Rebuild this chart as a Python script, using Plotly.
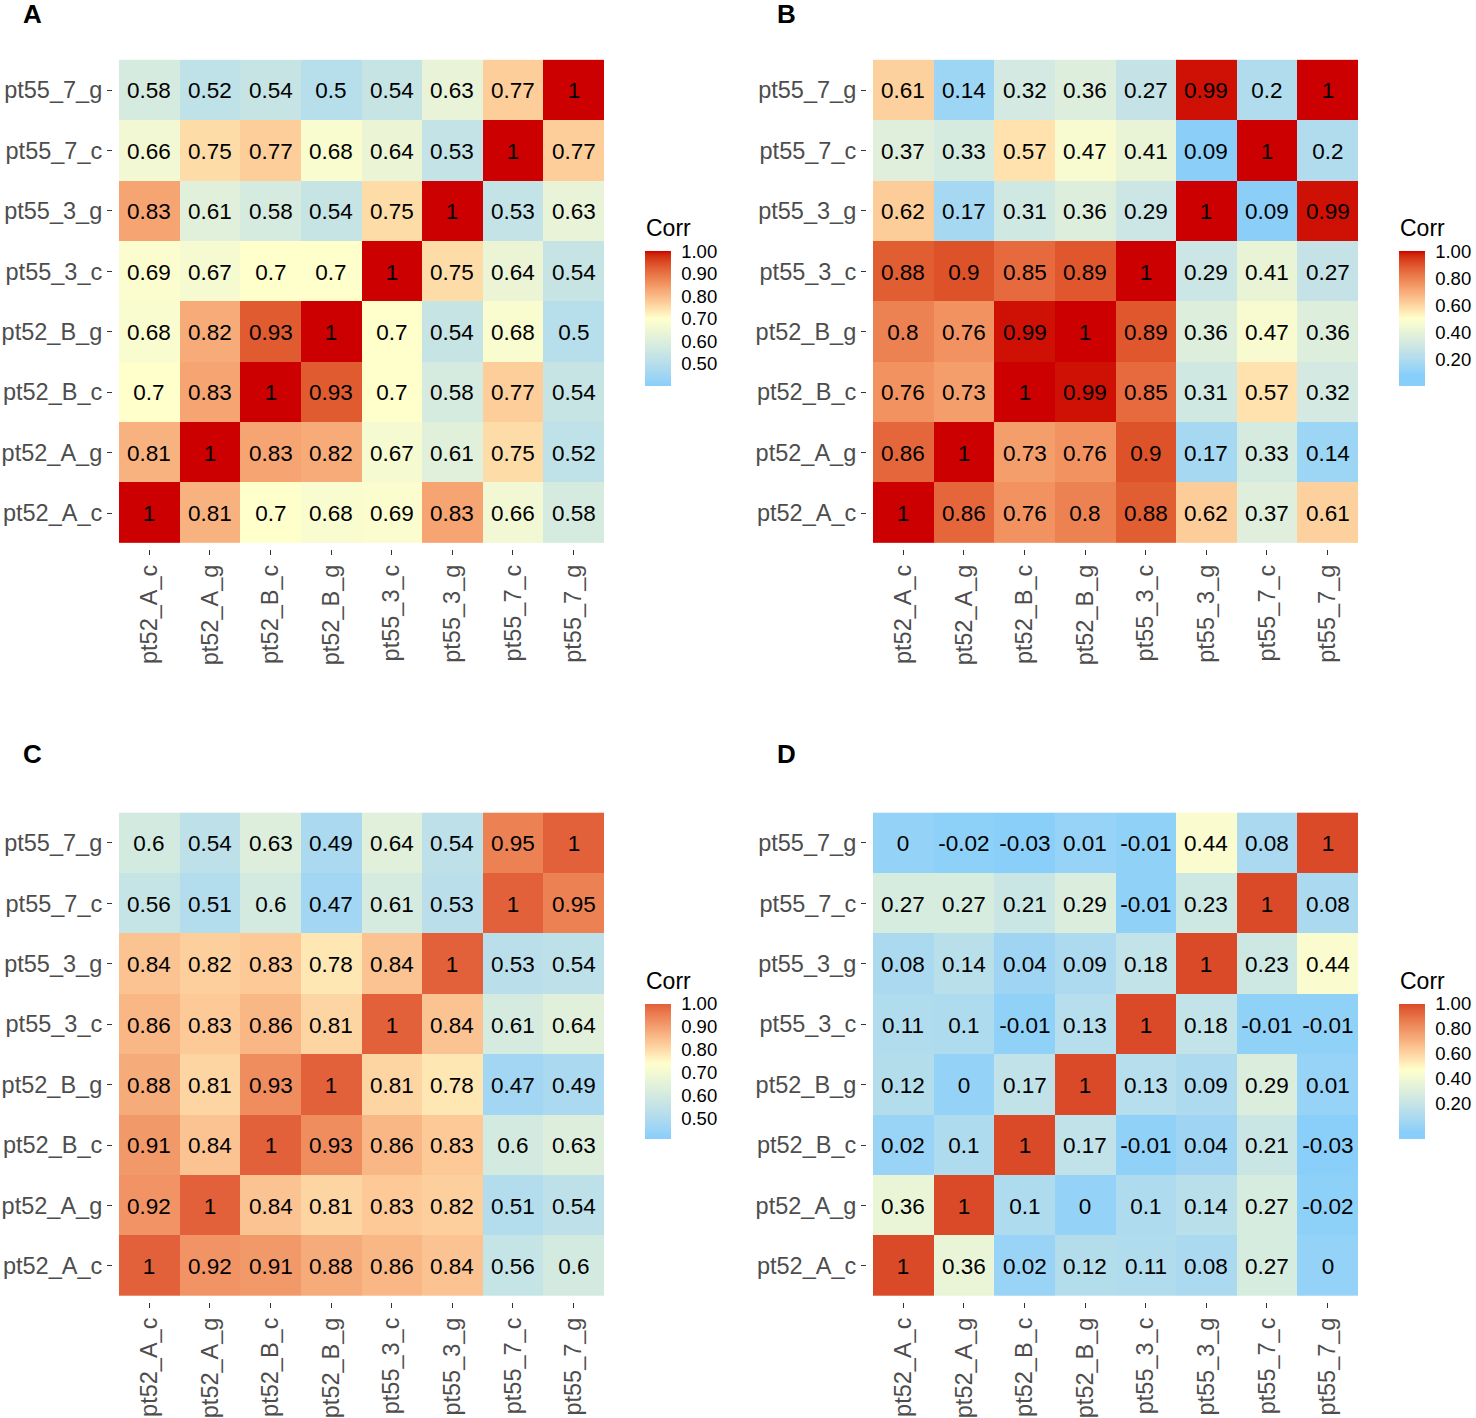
import plotly.graph_objects as go

labels = ["pt52_A_c", "pt52_A_g", "pt52_B_c", "pt52_B_g",
          "pt55_3_c", "pt55_3_g", "pt55_7_c", "pt55_7_g"]

# rows listed top (pt55_7_g) to bottom (pt52_A_c), columns left to right
corr_A = [
    [0.58, 0.52, 0.54, 0.5, 0.54, 0.63, 0.77, 1],
    [0.66, 0.75, 0.77, 0.68, 0.64, 0.53, 1, 0.77],
    [0.83, 0.61, 0.58, 0.54, 0.75, 1, 0.53, 0.63],
    [0.69, 0.67, 0.7, 0.7, 1, 0.75, 0.64, 0.54],
    [0.68, 0.82, 0.93, 1, 0.7, 0.54, 0.68, 0.5],
    [0.7, 0.83, 1, 0.93, 0.7, 0.58, 0.77, 0.54],
    [0.81, 1, 0.83, 0.82, 0.67, 0.61, 0.75, 0.52],
    [1, 0.81, 0.7, 0.68, 0.69, 0.83, 0.66, 0.58],
]
corr_B = [
    [0.61, 0.14, 0.32, 0.36, 0.27, 0.99, 0.2, 1],
    [0.37, 0.33, 0.57, 0.47, 0.41, 0.09, 1, 0.2],
    [0.62, 0.17, 0.31, 0.36, 0.29, 1, 0.09, 0.99],
    [0.88, 0.9, 0.85, 0.89, 1, 0.29, 0.41, 0.27],
    [0.8, 0.76, 0.99, 1, 0.89, 0.36, 0.47, 0.36],
    [0.76, 0.73, 1, 0.99, 0.85, 0.31, 0.57, 0.32],
    [0.86, 1, 0.73, 0.76, 0.9, 0.17, 0.33, 0.14],
    [1, 0.86, 0.76, 0.8, 0.88, 0.62, 0.37, 0.61],
]
corr_C = [
    [0.6, 0.54, 0.63, 0.49, 0.64, 0.54, 0.95, 1],
    [0.56, 0.51, 0.6, 0.47, 0.61, 0.53, 1, 0.95],
    [0.84, 0.82, 0.83, 0.78, 0.84, 1, 0.53, 0.54],
    [0.86, 0.83, 0.86, 0.81, 1, 0.84, 0.61, 0.64],
    [0.88, 0.81, 0.93, 1, 0.81, 0.78, 0.47, 0.49],
    [0.91, 0.84, 1, 0.93, 0.86, 0.83, 0.6, 0.63],
    [0.92, 1, 0.84, 0.81, 0.83, 0.82, 0.51, 0.54],
    [1, 0.92, 0.91, 0.88, 0.86, 0.84, 0.56, 0.6],
]
corr_D = [
    [0, -0.02, -0.03, 0.01, -0.01, 0.44, 0.08, 1],
    [0.27, 0.27, 0.21, 0.29, -0.01, 0.23, 1, 0.08],
    [0.08, 0.14, 0.04, 0.09, 0.18, 1, 0.23, 0.44],
    [0.11, 0.1, -0.01, 0.13, 1, 0.18, -0.01, -0.01],
    [0.12, 0, 0.17, 1, 0.13, 0.09, 0.29, 0.01],
    [0.02, 0.1, 1, 0.17, -0.01, 0.04, 0.21, -0.03],
    [0.36, 1, 0.1, 0, 0.1, 0.14, 0.27, -0.02],
    [1, 0.36, 0.02, 0.12, 0.11, 0.08, 0.27, 0],
]

bar_ticks_A = [0.5, 0.6, 0.7, 0.8, 0.9, 1.0]
bar_ticks_B = [0.2, 0.4, 0.6, 0.8, 1.0]

W, H = 1476, 1418
FONT = "Liberation Sans, Arial, Helvetica, sans-serif"


# ---- Lab interpolation helpers (mimic ggplot gradients) ----
def hex2rgb(h):
    h = h.lstrip("#")
    return [int(h[i:i + 2], 16) / 255 for i in (0, 2, 4)]


def srgb2lin(c):
    return c / 12.92 if c <= 0.04045 else ((c + 0.055) / 1.055) ** 2.4


def lin2srgb(c):
    c = max(0.0, min(1.0, c))
    return 12.92 * c if c <= 0.0031308 else 1.055 * c ** (1 / 2.4) - 0.055


def rgb2lab(rgb):
    r, g, b = [srgb2lin(c) for c in rgb]
    x = (0.4124 * r + 0.3576 * g + 0.1805 * b) / 0.95047
    y = (0.2126 * r + 0.7152 * g + 0.0722 * b) / 1.0
    z = (0.0193 * r + 0.1192 * g + 0.9505 * b) / 1.08883

    def f(t):
        return t ** (1 / 3) if t > 0.008856 else 7.787 * t + 16 / 116
    fx, fy, fz = f(x), f(y), f(z)
    return [116 * fy - 16, 500 * (fx - fy), 200 * (fy - fz)]


def lab2rgb(lab):
    L, a, b = lab
    fy = (L + 16) / 116
    fx = fy + a / 500
    fz = fy - b / 200

    def finv(t):
        return t ** 3 if t ** 3 > 0.008856 else (t - 16 / 116) / 7.787
    x, y, z = finv(fx) * 0.95047, finv(fy), finv(fz) * 1.08883
    r = 3.2406 * x - 1.5372 * y - 0.4986 * z
    g = -0.9689 * x + 1.8758 * y + 0.0415 * z
    bb = 0.0557 * x - 0.2040 * y + 1.0570 * z
    return [lin2srgb(c) for c in (r, g, bb)]


def make_scale(colors, positions, n=60):
    labs = [rgb2lab(hex2rgb(c)) for c in colors]
    out = []
    for k in range(n + 1):
        t = k / n
        if t <= positions[0]:
            lab = labs[0]
        else:
            lab = labs[-1]
            for i in range(len(positions) - 1):
                if positions[i] <= t <= positions[i + 1]:
                    u = (t - positions[i]) / (positions[i + 1] - positions[i])
                    lab = [labs[i][j] + u * (labs[i + 1][j] - labs[i][j]) for j in range(3)]
                    break
        r, g, b = lab2rgb(lab)
        out.append([t, "rgb(%d,%d,%d)" % (round(r * 255), round(g * 255), round(b * 255))])
    return out


LOW, MID = "#87CEFA", "#FFFFCC"

panels = [
    # data, letter, left px, top px, letter y px, cmin, blue-until, cmid, cmax, high colour, bar ticks
    (corr_A, "A", 119, 60, 14, 0.40, 0.40, 0.70, 1.0, "#CC0000", bar_ticks_A),
    (corr_B, "B", 873, 60, 14, 0.00, 0.08, 0.50, 1.0, "#CC0000", bar_ticks_B),
    (corr_C, "C", 119, 815, 756, 0.41, 0.41, 0.74, 1.0, "#E2603A", bar_ticks_A),
    (corr_D, "D", 873, 815, 756, -0.09, -0.04, 0.47, 1.0, "#DA4A28", bar_ticks_B),
]

CELL = 60.6
fig = go.Figure()
layout = dict(width=W, height=H, margin=dict(l=0, r=0, t=0, b=0),
              paper_bgcolor="white", plot_bgcolor="white",
              font=dict(family=FONT), showlegend=False, annotations=[])


def px_x(v):
    return v / W


def px_y(v):
    return 1 - v / H


for k, (data, letter, left, top, ly, cmin, cblue, cmid, cmax, high, bticks) in enumerate(panels):
    idx = "" if k == 0 else str(k + 1)
    z = data[::-1]
    text = [["%g" % v for v in row] for row in z]
    fig.add_trace(go.Heatmap(
        z=z, x=list(range(8)), y=list(range(8)), text=text,
        texttemplate="%{text}", textfont=dict(size=22.5, color="black", family=FONT),
        coloraxis="coloraxis" + idx, xaxis="x" + idx, yaxis="y" + idx,
        xgap=0, ygap=0, hoverinfo="skip"))
    pad = 0.1 * CELL
    x0 = px_x(left - pad)
    x1 = px_x(left + 8 * CELL + pad)
    y1 = px_y(top - pad)
    y0 = px_y(top + 8 * CELL + pad)
    axcommon = dict(range=[-0.6, 7.6], showgrid=False, zeroline=False,
                    showline=False, ticks="outside", ticklen=5, tickwidth=1,
                    tickcolor="#333333", tickvals=list(range(8)), ticktext=labels,
                    tickfont=dict(size=23.5, color="#4D4D4D", family=FONT),
                    fixedrange=True)
    layout["xaxis" + idx] = dict(axcommon, domain=[x0, x1], anchor="y" + idx,
                                 tickangle=-90)
    layout["yaxis" + idx] = dict(axcommon, domain=[y0, y1], anchor="x" + idx)
    span = cmax - cmin
    stops = [(cblue - cmin) / span, (cmid - cmin) / span, 1.0]
    bar_top = top + 192
    bar_len = 135
    bar_left = left + 526
    layout["coloraxis" + idx] = dict(
        cmin=cmin, cmax=cmax,
        colorscale=make_scale([LOW, MID, high], stops),
        colorbar=dict(
            x=px_x(bar_left), xanchor="left", xpad=0,
            y=px_y(bar_top + bar_len / 2), yanchor="middle", ypad=0,
            len=bar_len, lenmode="pixels", thickness=26, thicknessmode="pixels",
            outlinewidth=0, ticks="outside", ticklen=7,
            tickcolor="rgba(255,255,255,0)",
            tickvals=bticks, tickformat=".2f",
            tickfont=dict(size=18.5, color="black", family=FONT)))
    layout["annotations"].append(dict(
        text="Corr", x=px_x(bar_left - 1), y=px_y(bar_top - 23),
        xref="paper", yref="paper", xanchor="left", yanchor="middle",
        showarrow=False, font=dict(size=23, color="black", family=FONT)))
    layout["annotations"].append(dict(
        text="<b>%s</b>" % letter, x=px_x(left - 98), y=px_y(ly),
        xref="paper", yref="paper", xanchor="left", yanchor="middle",
        showarrow=False, font=dict(size=26, color="black", family=FONT)))

fig.update_layout(**layout)
fig.write_html("out.html", config={"displayModeBar": False},
               post_script="document.body.style.margin='0';"
                           "document.body.style.overflow='hidden';")
